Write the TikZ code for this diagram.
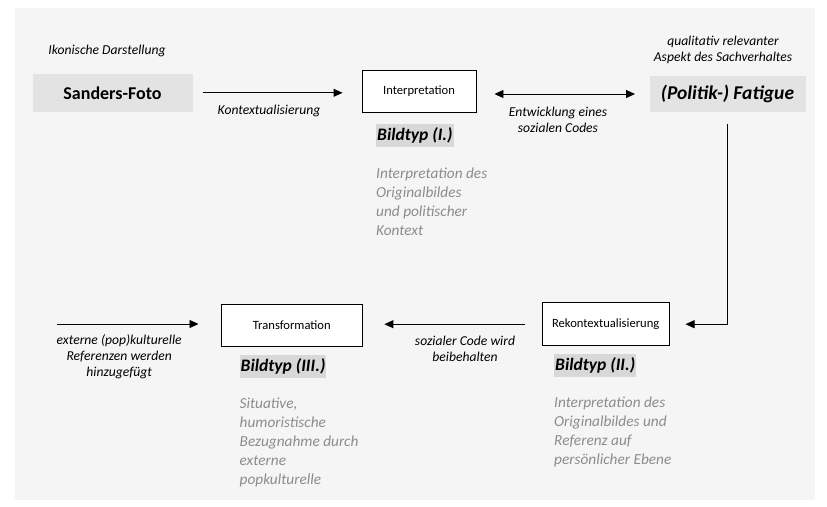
\documentclass[tikz,border=0pt]{standalone}
\usepackage{fontspec}
\setmainfont{Carlito}
\usetikzlibrary{arrows.meta}
\definecolor{hintergrund}{HTML}{F5F5F5}
\definecolor{kastengrau}{HTML}{E3E3E3}
\definecolor{markiert}{HTML}{D8D8D8}
\definecolor{grauschrift}{HTML}{8C8C8C}

\tikzset{
  pfeil/.style={line width=0.9pt, -{Triangle[length=9pt,width=8pt]}},
  doppelpfeil/.style={line width=0.9pt, {Triangle[length=9pt,width=8pt]}-{Triangle[length=9pt,width=8pt]}},
  kasten/.style={draw, fill=white, line width=0.9pt, inner sep=0pt, font=\fontsize{12.6}{14}\selectfont},
  grauerkasten/.style={fill=kastengrau, inner sep=0pt, font=\bfseries\fontsize{18}{20}\selectfont},
  beschriftung/.style={align=center, inner sep=0pt, font=\itshape\fontsize{13.6}{16.2}\selectfont},
  bildtyp/.style={fill=markiert, anchor=west, inner xsep=1pt, inner ysep=0pt, minimum height=23pt, font=\bfseries\itshape\fontsize{17.5}{19}\selectfont},
  erklaerung/.style={anchor=north west, align=left, inner sep=0pt, text=grauschrift, font=\itshape\fontsize{15.3}{19}\selectfont},
}

\begin{document}
\begin{tikzpicture}[x=1pt, y=-1pt]
% Hintergrund
\fill[white] (0,0) rectangle (827,506);
\fill[hintergrund] (15,8) rectangle (815,500);
\useasboundingbox (0,0) rectangle (827,506);

% obere Reihe
\node[grauerkasten, minimum width=160pt, minimum height=38pt] (sanders) at (112.5,92.8) {Sanders-Foto};
\node[beschriftung] (ikonisch) at (107,50.7) {Ikonische Darstellung};

\node[kasten, minimum width=114pt, minimum height=42.7pt] (interp) at (419,91.3) {Interpretation};
\node[bildtyp] (typeins) at (376,135.5) {Bildtyp (I.)};
\node[erklaerung] (erkleins) at (376,167.5) {Interpretation des\\Originalbildes\\und politischer\\Kontext};

\node[grauerkasten, minimum width=156pt, minimum height=36pt, font=\bfseries\itshape\fontsize{19.5}{21}\selectfont] (fatigue) at (727.5,94) {(Politik-) Fatigue};
\node[beschriftung] (aspekt) at (723,49.5) {qualitativ relevanter\\Aspekt des Sachverhaltes};

% untere Reihe
\node[kasten, minimum width=126.7pt, minimum height=43pt] (rekon) at (605.7,324.2) {Rekontextualisierung};
\node[bildtyp] (typzwei) at (554,365.5) {Bildtyp (II.)};
\node[erklaerung] (erklzwei) at (554,397) {Interpretation des\\Originalbildes und\\Referenz auf\\persönlicher Ebene};

\node[kasten, minimum width=141.7pt, minimum height=42.4pt] (trans) at (291.8,325.5) {Transformation};
\node[bildtyp] (typdrei) at (239.5,366.3) {Bildtyp (III.)};
\node[erklaerung] (erkldrei) at (239.5,397.5) {Situative,\\humoristische\\Bezugnahme durch\\externe\\popkulturelle};

% Pfeile
\draw[pfeil, shorten <=10pt, shorten >=19pt] (sanders.east) -- (sanders.east -| interp.west);
\node[beschriftung] (kontext) at (269,111) {Kontextualisierung};

\draw[doppelpfeil, shorten <=18pt, shorten >=14.3pt] (interp.east |- fatigue.west) -- (fatigue.west);
\node[beschriftung] (code) at (558,120) {Entwicklung eines\\sozialen Codes};

\draw[pfeil, shorten <=12pt, shorten >=16pt] (fatigue.south) |- (rekon.east);

\draw[pfeil, shorten <=17.3pt, shorten >=21.3pt] (rekon.west) -- (rekon.west -| trans.east);
\node[beschriftung] (beibehalten) at (465,348.5) {sozialer Code wird\\beibehalten};

\coordinate (extern) at (57.3,324);
\draw[pfeil, shorten >=22pt] (extern) -- (extern -| trans.west);
\node[beschriftung] (referenzen) at (119.2,356.7) {externe (pop)kulturelle\\Referenzen werden\\hinzugefügt};
\end{tikzpicture}
\end{document}
